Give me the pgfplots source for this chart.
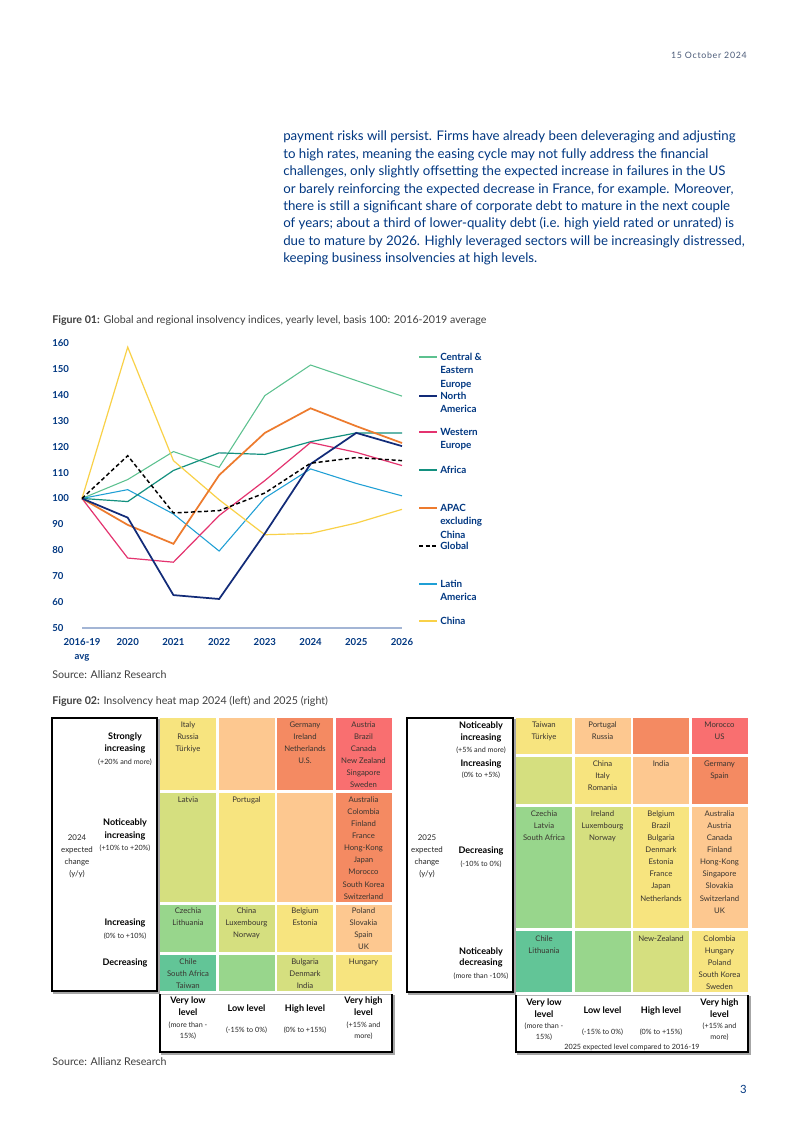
\documentclass[border=0pt]{standalone}
\usepackage{pgfplots}
\pgfplotsset{compat=1.18}
\usepackage{pgfplotstable}
\usepackage{fontspec}
\setmainfont{Lato}
\newfontfamily\datefont[LetterSpace=8]{Lato}

\definecolor{azblue}{HTML}{003781}
\definecolor{datec}{HTML}{4B5B78}
\definecolor{capc}{HTML}{3F3F3F}
\definecolor{cellc}{HTML}{3A3530}
\definecolor{cee}{HTML}{5CC18F}
\definecolor{nam}{HTML}{122B78}
\definecolor{weu}{HTML}{E4336F}
\definecolor{afr}{HTML}{13907F}
\definecolor{apac}{HTML}{ED7B2E}
\definecolor{lat}{HTML}{1F9FD5}
\definecolor{chn}{HTML}{F9D148}
\definecolor{axc}{HTML}{A3B5D5}
\definecolor{hRed}{HTML}{F96F70}
\definecolor{hOra}{HTML}{F48A62}
\definecolor{hLor}{HTML}{FDC890}
\definecolor{hYel}{HTML}{F7E47F}
\definecolor{hYgr}{HTML}{D5DF7F}
\definecolor{hGrn}{HTML}{98D68C}
\definecolor{hTea}{HTML}{62C597}

\newcommand\fs[2]{\fontsize{#1}{#2}\selectfont}

\pgfplotstableread{
x cee nam weu afr apac glob lat chn
0 100 100 100 100 100 100 100 100
1 107.3 92.6 77.0 98.8 89.8 116.5 103.4 158.4
2 118.1 62.7 75.4 110.8 82.5 94.4 94.0 114.6
3 112.0 61.2 93.4 117.6 109.0 95.3 79.7 99.5
4 139.7 86.5 106.9 117.0 125.3 102.1 100.2 86.0
5 151.5 113.3 121.6 121.9 134.8 113.6 111.4 86.5
6 145.5 125.3 117.8 125.3 127.9 115.8 105.8 90.5
7 139.5 120.2 112.7 125.3 121.4 114.6 101.0 95.8
}\insolv

\newcommand\cell[5]{\addplot[draw=none, fill=#5] coordinates {(#1,#3) (#2,#3) (#2,#4) (#1,#4)} -- cycle;}
\newcommand\clist[3]{\foreach \ctry [count=\ci from 0] in {#3}{\node[font=\fs{5.8}{7}, text=cellc, anchor=mid, inner sep=0pt] at (#1,{#2+12.1*\ci}) {\ctry};}}
\newcommand\bl[2]{\node[anchor=mid, inner sep=0pt, font=\bfseries\fs{6.8}{8}, text=black] at (#1) {#2};}
\newcommand\sml[2]{\node[anchor=mid, inner sep=0pt, font=\fs{5.4}{7}, text=black!85] at (#1) {#2};}
\newcommand\mdl[2]{\node[anchor=mid, inner sep=0pt, font=\fs{5.9}{7}, text=black!85] at (#1) {#2};}
\newcommand\bodyline[2]{\node[anchor=mid west, inner sep=0pt, font=\fs{9.95}{13}, text=azblue] at (283,#1) {#2};}
\newcommand\lgt[3]{\foreach \lt [count=\li from 0] in {#3}{\node[anchor=mid west, inner sep=0pt, font=\bfseries\fs{7.4}{10}, text=azblue] at (440,{#2+13.5*\li}) {\lt};}
  \draw[#1] (419,#2) -- (437,#2);}

\begin{document}
\begin{tikzpicture}[x=0.75pt,y=-0.75pt]
\path[use as bounding box, fill=white] (0,0) rectangle (800,1130);

% header date
\node[anchor=mid east, inner sep=0pt, font=\datefont\fs{6.6}{8}, text=datec] at (747,55) {15 October 2024};

% body text
\bodyline{137.3}{payment risks will persist. Firms have already been deleveraging and adjusting}
\bodyline{155.0}{to high rates, meaning the easing cycle may not fully address the financial}
\bodyline{172.4}{challenges, only slightly offsetting the expected increase in failures in the US}
\bodyline{190.0}{or barely reinforcing the expected decrease in France, for example. Moreover,}
\bodyline{207.4}{there is still a significant share of corporate debt to mature in the next couple}
\bodyline{224.6}{of years; about a third of lower-quality debt (i.e. high yield rated or unrated) is}
\bodyline{241.8}{due to mature by 2026. Highly leveraged sectors will be increasingly distressed,}
\bodyline{259.3}{keeping business insolvencies at high levels.}

% captions
\node[anchor=mid west, inner sep=0pt, font=\fs{8}{9}, text=capc] at (52,320) {\textbf{Figure 01:} Global and regional insolvency indices, yearly level, basis 100: 2016-2019 average};
\node[anchor=mid west, inner sep=0pt, font=\fs{8}{9}, text=capc] at (52,675) {Source: Allianz Research};
\node[anchor=mid west, inner sep=0pt, font=\fs{8}{9}, text=capc] at (52,701) {\textbf{Figure 02:} Insolvency heat map 2024 (left) and 2025 (right)};
\node[anchor=mid west, inner sep=0pt, font=\fs{8}{9}, text=capc] at (52,1062) {Source: Allianz Research};
\node[anchor=mid east, inner sep=0pt, font=\fs{8.5}{9}, text=azblue] at (747,1090) {3};

% ---------------- line chart ----------------
\begin{axis}[
  at={(61.5pt,-471pt)}, anchor=south west, scale only axis,
  width=240pt, height=213.75pt,
  xmin=0, xmax=7, ymin=50, ymax=160,
  axis x line*=bottom, axis y line*=left,
  y axis line style={draw=none},
  x axis line style={draw=axc, line width=1.1pt},
  xtick={0,...,7},
  xticklabels={{2016-19\\avg},2020,2021,2022,2023,2024,2025,2026},
  ytick={50,60,...,160},
  major tick length=0pt,
  /pgf/number format/assume math mode=true,
  tick label style={font=\bfseries\fs{7.2}{10}, text=azblue, inner sep=0pt},
  xticklabel style={align=center, anchor=north, yshift=-8pt},
  yticklabel style={anchor=west, xshift=-22.5pt},
  clip=false,
]
\addplot[cee, line width=0.8pt] table[x=x, y=cee] {\insolv};
\addplot[lat, line width=0.8pt] table[x=x, y=lat] {\insolv};
\addplot[afr, line width=0.9pt] table[x=x, y=afr] {\insolv};
\addplot[weu, line width=0.9pt] table[x=x, y=weu] {\insolv};
\addplot[chn, line width=0.9pt] table[x=x, y=chn] {\insolv};
\addplot[apac, line width=1.3pt] table[x=x, y=apac] {\insolv};
\addplot[nam, line width=1.3pt] table[x=x, y=nam] {\insolv};
\addplot[black, line width=1.1pt, dash pattern=on 3pt off 2pt] table[x=x, y=glob] {\insolv};
\end{axis}

% legend
\lgt{cee, line width=0.8pt}{357}{Central \&,Eastern,Europe}
\lgt{nam, line width=1.3pt}{396}{North,America}
\lgt{weu, line width=0.9pt}{432}{Western,Europe}
\lgt{afr, line width=0.9pt}{470}{Africa}
\lgt{apac, line width=1.3pt}{508}{APAC,excluding,China}
\lgt{black, line width=1.1pt, dash pattern=on 3pt off 2pt}{546}{Global}
\lgt{lat, line width=0.8pt}{584}{Latin,America}
\lgt{chn, line width=0.9pt}{621}{China}

% ---------------- heat maps (cells) ----------------
\begin{axis}[at={(0pt,0pt)}, anchor=north west, x=0.75pt, y=0.75pt,
  xmin=0, xmax=800, ymin=0, ymax=1130, y dir=reverse, hide axis, clip=false]
% left map
\cell{160}{216}{718}{790}{hYel}
\cell{218.5}{274.5}{718}{790}{hLor}
\cell{277}{333}{718}{790}{hOra}
\cell{335.5}{391.5}{718}{790}{hRed}
\cell{160}{216}{793}{902}{hYgr}
\cell{218.5}{274.5}{793}{902}{hYel}
\cell{277}{333}{793}{902}{hLor}
\cell{335.5}{391.5}{793}{902}{hOra}
\cell{160}{216}{904.5}{952}{hGrn}
\cell{218.5}{274.5}{904.5}{952}{hYgr}
\cell{277}{333}{904.5}{952}{hYel}
\cell{335.5}{391.5}{904.5}{952}{hLor}
\cell{160}{216}{955}{991}{hTea}
\cell{218.5}{274.5}{955}{991}{hGrn}
\cell{277}{333}{955}{991}{hYgr}
\cell{335.5}{391.5}{955}{991}{hYel}
% right map
\cell{516}{572}{718}{754}{hYel}
\cell{574.5}{630.5}{718}{754}{hLor}
\cell{633}{689}{718}{754}{hOra}
\cell{691.5}{747.5}{718}{754}{hRed}
\cell{516}{572}{757}{804}{hYgr}
\cell{574.5}{630.5}{757}{804}{hYel}
\cell{633}{689}{757}{804}{hLor}
\cell{691.5}{747.5}{757}{804}{hOra}
\cell{516}{572}{807}{928}{hGrn}
\cell{574.5}{630.5}{807}{928}{hYgr}
\cell{633}{689}{807}{928}{hYel}
\cell{691.5}{747.5}{807}{928}{hLor}
\cell{516}{572}{931}{992}{hTea}
\cell{574.5}{630.5}{931}{992}{hGrn}
\cell{633}{689}{931}{992}{hYgr}
\cell{691.5}{747.5}{931}{992}{hYel}
\end{axis}

% frames
\draw[black!35, line width=1pt] (54,720) rectangle (159,993);
\draw[black, line width=0.9pt, fill=white] (52,718) rectangle (157,991);
\draw[black!35, line width=1pt] (162,996) rectangle (394,1054);
\draw[black!30, line width=0.4pt, fill=white] (160,994) rectangle (392,1052);
\draw[black, line width=0.9pt] (160,994) -- (160,1052) -- (392,1052) -- (392,994);
\draw[black!35, line width=1pt] (409,720) rectangle (515,994);
\draw[black, line width=0.9pt, fill=white] (407,718) rectangle (513,992);
\draw[black!35, line width=1pt] (518,997) rectangle (750,1054);
\draw[black!30, line width=0.4pt, fill=white] (516,995) rectangle (748,1052);
\draw[black, line width=0.9pt] (516,995) -- (516,1052) -- (748,1052) -- (748,995);

% left map texts
\clist{188}{724}{Italy,Russia,Türkiye}
\clist{305}{724}{Germany,Ireland,Netherlands,U.S.}
\clist{363.5}{724}{Austria,Brazil,Canada,New Zealand,Singapore,Sweden}
\clist{188}{799}{Latvia}
\clist{246.5}{799}{Portugal}
\clist{363.5}{799}{Australia,Colombia,Finland,France,Hong-Kong,Japan,Morocco,South Korea,Switzerland}
\clist{188}{910}{Czechia,Lithuania}
\clist{246.5}{910}{China,Luxembourg,Norway}
\clist{305}{910}{Belgium,Estonia}
\clist{363.5}{910}{Poland,Slovakia,Spain,UK}
\clist{188}{961}{Chile,South Africa,Taiwan}
\clist{305}{961}{Bulgaria,Denmark,India}
\clist{363.5}{961}{Hungary}

\bl{125,736}{Strongly}
\bl{125,748}{increasing}
\sml{125,761}{(+20\% and more)}
\bl{125,822}{Noticeably}
\bl{125,835}{increasing}
\sml{125,847}{(+10\% to +20\%)}
\bl{125,922}{Increasing}
\sml{125,935}{(0\% to +10\%)}
\bl{125,962}{Decreasing}
\mdl{77,837}{2024}
\mdl{77,849}{expected}
\mdl{77,861}{change}
\mdl{77,873}{(y/y)}

\bl{188,1000}{Very low}
\bl{188,1012}{level}
\sml{188,1024}{(more than -}
\sml{188,1035}{15\%)}
\bl{246.5,1008}{Low level}
\sml{246.5,1029}{(-15\% to 0\%)}
\bl{305,1008}{High level}
\sml{305,1029}{(0\% to +15\%)}
\bl{363.5,1000}{Very high}
\bl{363.5,1012}{level}
\sml{363.5,1024}{(+15\% and}
\sml{363.5,1035}{more)}

% right map texts
\clist{544}{724}{Taiwan,Türkiye}
\clist{602.5}{724}{Portugal,Russia}
\clist{719.5}{724}{Morocco,US}
\clist{602.5}{763}{China,Italy,Romania}
\clist{661}{763}{India}
\clist{719.5}{763}{Germany,Spain}
\clist{544}{813}{Czechia,Latvia,South Africa}
\clist{602.5}{813}{Ireland,Luxembourg,Norway}
\clist{661}{813}{Belgium,Brazil,Bulgaria,Denmark,Estonia,France,Japan,Netherlands}
\clist{719.5}{813}{Australia,Austria,Canada,Finland,Hong-Kong,Singapore,Slovakia,Switzerland,UK}
\clist{544}{938}{Chile,Lithuania}
\clist{661}{938}{New-Zealand}
\clist{719.5}{938}{Colombia,Hungary,Poland,South Korea,Sweden}

\bl{481,725}{Noticeably}
\bl{481,737}{increasing}
\sml{481,749}{(+5\% and more)}
\bl{481,763}{Increasing}
\sml{481,774}{(0\% to +5\%)}
\bl{481,850}{Decreasing}
\sml{481,863}{(-10\% to 0\%)}
\bl{481,951}{Noticeably}
\bl{481,962}{decreasing}
\sml{481,975}{(more than -10\%)}
\mdl{427,837}{2025}
\mdl{427,849}{expected}
\mdl{427,861}{change}
\mdl{427,873}{(y/y)}

\bl{544,1002}{Very low}
\bl{544,1014}{level}
\sml{544,1025}{(more than -}
\sml{544,1036}{15\%)}
\bl{602.5,1010}{Low level}
\sml{602.5,1031}{(-15\% to 0\%)}
\bl{661,1010}{High level}
\sml{661,1031}{(0\% to +15\%)}
\bl{719.5,1002}{Very high}
\bl{719.5,1014}{level}
\sml{719.5,1025}{(+15\% and}
\sml{719.5,1036}{more)}
\sml{632,1046.5}{2025 expected level compared to 2016-19}
\end{tikzpicture}
\end{document}
